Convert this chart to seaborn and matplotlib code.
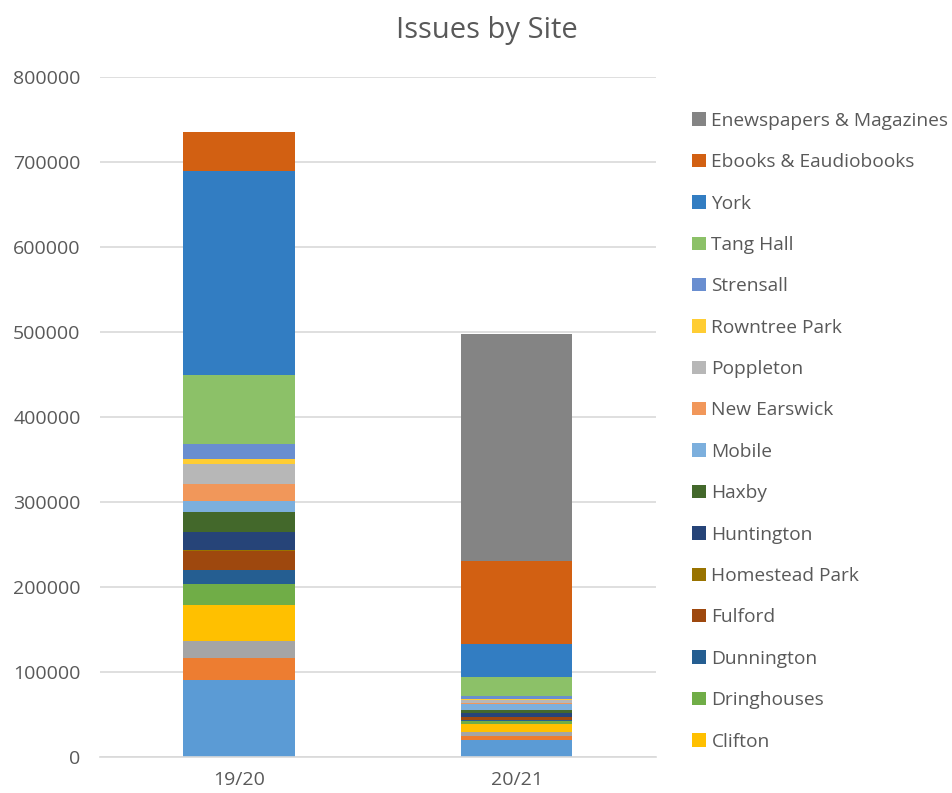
import numpy as np
import pandas as pd
import matplotlib
matplotlib.use("Agg")
import matplotlib.pyplot as plt
import seaborn as sns

# Data
periods = ["19/20", "20/21"]
sites = ["Acomb", "Bishopthorpe", "Clements Hall", "Clifton", "Dringhouses",
         "Dunnington", "Fulford", "Homestead Park", "Huntington", "Haxby",
         "Mobile", "New Earswick", "Poppleton", "Rowntree Park", "Strensall",
         "Tang Hall", "York", "Ebooks & Eaudiobooks", "Enewspapers & Magazines"]
issues_1920 = [91400, 25900, 19500, 42000, 24700, 16500, 22000, 1500, 22000, 22400,
               13800, 19500, 24000, 5400, 17700, 80800, 240800, 45100, 0]
issues_2021 = [20400, 4700, 4700, 9800, 2800, 1900, 2800, 300, 4900, 3500,
               6300, 2300, 3200, 1200, 3800, 22400, 38000, 97300, 268000]
colors = ["#5B9BD5", "#ED7D31", "#A5A5A5", "#FFC000", "#70AD47",
          "#255E91", "#9E480E", "#997300", "#264478", "#43682B",
          "#7CAFDD", "#F1975A", "#B7B7B7", "#FFCD33", "#698ED0",
          "#8CC168", "#327DC2", "#D26012", "#848484"]

df = pd.DataFrame({"site": np.repeat(sites, 2),
                   "period": periods * len(sites),
                   "issues": np.ravel(np.column_stack([issues_1920, issues_2021]))})

sns.set_style("white")
plt.rcParams['font.family'] = ['Open Sans', 'DejaVu Sans']

fig, ax = plt.subplots(figsize=(9.53, 7.93), dpi=100)
fig.subplots_adjust(left=0.105, right=0.688, top=0.903, bottom=0.045)

bottom = np.zeros(len(periods))
for site, col in zip(sites, colors):
    vals = df[df["site"] == site]["issues"].to_numpy()
    sns.barplot(x=periods, y=vals, bottom=bottom, color=col, saturation=1,
                width=0.4, ax=ax, label=site, linewidth=0)
    bottom += vals

ax.set_ylim(0, 800000)
ax.set_yticks(range(0, 800001, 100000))
ax.yaxis.grid(True, color="#D9D9D9", linewidth=1.2)
ax.set_axisbelow(True)
for s in ["top", "right", "left"]:
    ax.spines[s].set_visible(False)
ax.spines["bottom"].set_color("#D9D9D9")
ax.spines["bottom"].set_linewidth(1.2)
ax.tick_params(axis="both", length=0, labelsize=14, labelcolor="#595959")
ax.tick_params(axis="y", pad=14)
ax.tick_params(axis="x", pad=10)
ax.set_xlabel("")
ax.set_ylabel("")
fig.text(0.511, 0.962, "Issues by Site", fontsize=21, color="#595959",
         ha="center", va="center")

# legend in reverse order, truncated like the original (bottom three hidden)
h, l = ax.get_legend_handles_labels()
h, l = h[::-1][:16], l[::-1][:16]
ax.legend(h, l, loc="upper left", bbox_to_anchor=(1.052, 0.96), frameon=False,
          fontsize=13.8, labelcolor="#595959", handlelength=0.7, handleheight=0.7,
          handletextpad=0.3, labelspacing=1.22, borderaxespad=0)

fig.savefig("out.png", dpi=100)
